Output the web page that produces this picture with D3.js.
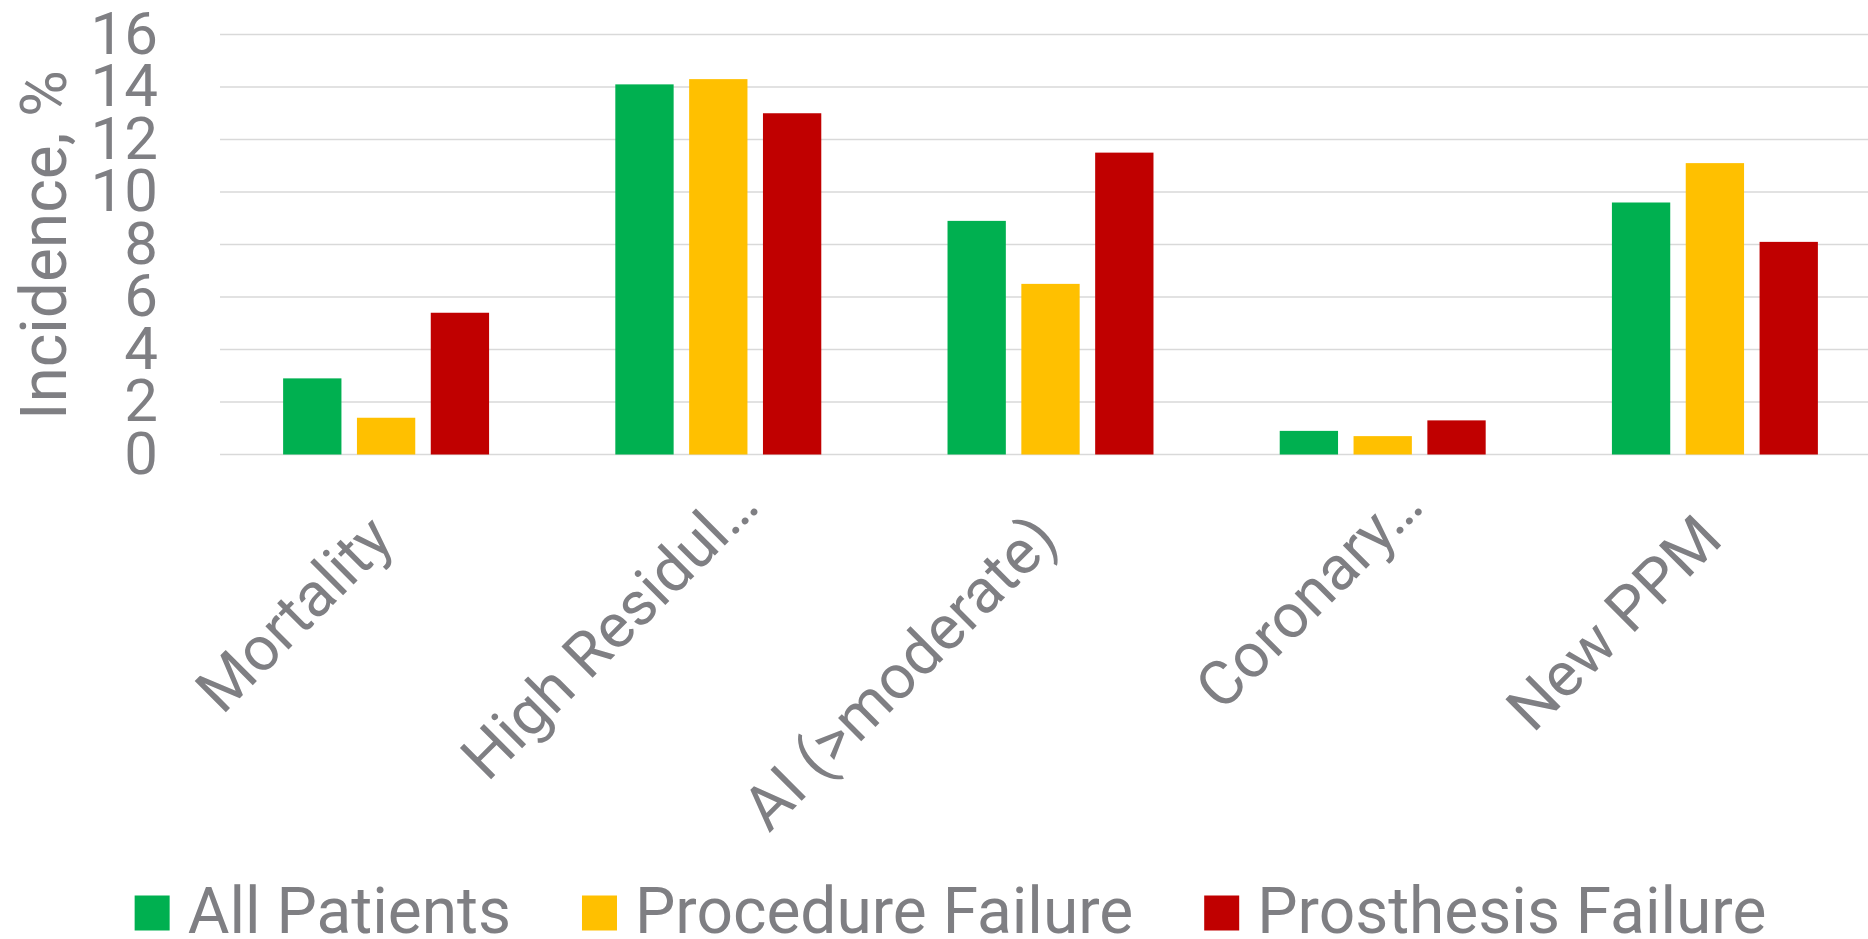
<!DOCTYPE html>
<html>
<head>
<meta charset="utf-8">
<script src="https://cdn.jsdelivr.net/npm/d3@7"></script>
<style>
  html, body { margin: 0; padding: 0; background: #ffffff; }
  svg { display: block; }
  text { font-family: Roboto, "Noto Sans", sans-serif; fill: #7f7f83; }
</style>
</head>
<body>
<svg id="chart" width="1868" height="939"></svg>
<script>
// Outcome categories (long names are shown truncated with an ellipsis)
const categories = ["Mortality", "High Residul…", "AI (>moderate)", "Coronary…", "New PPM"];
const seriesNames = ["All Patients", "Procedure Failure", "Prosthesis Failure"];
const seriesColors = ["#00b050", "#ffc000", "#c00000"];

// Incidence (%) per category for each group
const allPatients       = [2.9, 14.1, 8.9, 0.9, 9.6];
const procedureFailure  = [1.4, 14.3, 6.5, 0.7, 11.1];
const prosthesisFailure = [5.4, 13.0, 11.5, 1.3, 8.1];

const yTicks = [0, 2, 4, 6, 8, 10, 12, 14, 16];
const yTitle = "Incidence, %";

const seriesValues = [allPatients, procedureFailure, prosthesisFailure];

const svg = d3.select("#chart");
const plot = { left: 220, right: 1881, top: 34.5, bottom: 454.5 };

const x0 = d3.scaleBand()
  .domain(categories)
  .range([plot.left, plot.right])
  .paddingInner(0.38)
  .paddingOuter(0.19);

const x1 = d3.scaleBand()
  .domain(seriesNames)
  .range([0, x0.bandwidth()])
  .paddingInner(0.21);

const y = d3.scaleLinear()
  .domain([0, 16])
  .range([plot.bottom, plot.top]);

// Horizontal gridlines (the zero line doubles as the category axis)
svg.append("g")
  .selectAll("line")
  .data(yTicks)
  .join("line")
  .attr("x1", plot.left)
  .attr("x2", 1868)
  .attr("y1", d => y(d))
  .attr("y2", d => y(d))
  .attr("stroke", "#d9d9d9")
  .attr("stroke-width", 1.6);

// Y tick labels
const yAxis = d3.axisLeft(y).tickValues(yTicks).tickSize(0).tickPadding(0);
const yAxisG = svg.append("g")
  .attr("transform", `translate(158,0)`)
  .call(yAxis);
yAxisG.select(".domain").remove();
yAxisG.selectAll("text")
  .attr("font-size", 60)
  .attr("fill", "#7f7f83")
  .attr("dy", "0.31em")
  .style("font-family", "Roboto, 'Noto Sans', sans-serif");

// Y axis title
svg.append("text")
  .attr("transform", "translate(66,245) rotate(-90)")
  .attr("text-anchor", "middle")
  .attr("font-size", 64)
  .text(yTitle);

// Bars
const rows = categories.map((c, i) => ({
  category: c,
  values: seriesNames.map((s, j) => ({ series: s, value: seriesValues[j][i], color: seriesColors[j] }))
}));

svg.append("g")
  .selectAll("g")
  .data(rows)
  .join("g")
  .attr("transform", d => `translate(${x0(d.category)},0)`)
  .selectAll("rect")
  .data(d => d.values)
  .join("rect")
  .attr("x", d => x1(d.series))
  .attr("width", x1.bandwidth())
  .attr("y", d => y(d.value))
  .attr("height", d => y(0) - y(d.value))
  .attr("fill", d => d.color);

// Rotated category labels; truncated labels run further along their baseline
const xAxis = d3.axisBottom(x0).tickSize(0).tickPadding(0);
const xAxisG = svg.append("g")
  .attr("transform", `translate(0,${plot.bottom})`)
  .call(xAxis);
xAxisG.select(".domain").remove();
xAxisG.selectAll(".tick text")
  .attr("font-size", 62)
  .attr("fill", "#7f7f83")
  .attr("text-anchor", "end")
  .attr("x", d => d.endsWith("…") ? 47 : 0)
  .attr("y", 0)
  .attr("dy", 0)
  .attr("transform", "translate(10,87.5) rotate(-45)")
  .style("font-family", "Roboto, 'Noto Sans', sans-serif");

// Legend
const legend = svg.append("g");
const sw = 35, textGap = 18, itemGap = 71, legendFont = 64;
const items = legend.selectAll("g")
  .data(seriesNames.map((s, i) => ({ name: s, color: seriesColors[i] })))
  .join("g");
items.append("rect")
  .attr("width", sw)
  .attr("height", sw)
  .attr("y", -sw / 2)
  .attr("fill", d => d.color);
items.append("text")
  .attr("x", sw + textGap)
  .attr("dy", "0.31em")
  .attr("font-size", legendFont)
  .text(d => d.name);

let cursor = 0;
items.each(function () {
  const g = d3.select(this);
  const w = sw + textGap + g.select("text").node().getComputedTextLength();
  g.attr("transform", `translate(${cursor},0)`);
  cursor += w + itemGap;
});
const legendWidth = cursor - itemGap;
legend.attr("transform", `translate(${950.5 - legendWidth / 2},913)`);
</script>
</body>
</html>
